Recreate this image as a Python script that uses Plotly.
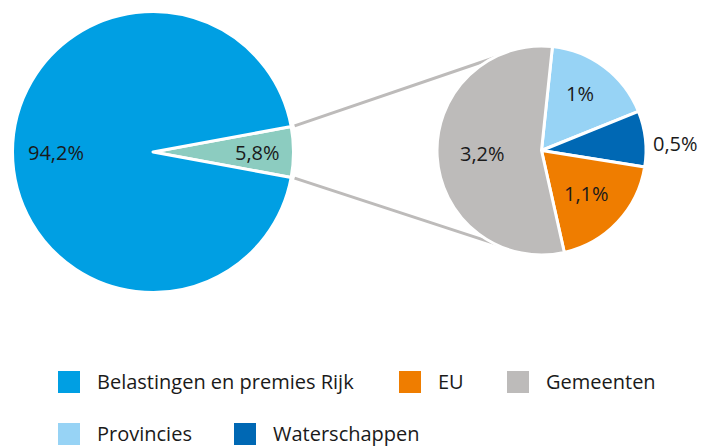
import math
import plotly.graph_objects as go

W, H = 702, 447

# Main split: state taxes vs. the remainder that is broken down on the right
main_labels = ["Belastingen en premies Rijk", "Overig"]
main_values = [94.2, 5.8]
main_colors = ["#009FE3", "#8CCCC0"]

# Breakdown of the remaining share
detail_labels = ["Provincies", "Waterschappen", "EU", "Gemeenten"]
detail_values = [1.0, 0.5, 1.1, 3.2]
detail_colors = ["#97D3F5", "#0068B4", "#EF7D00", "#BDBBBA"]

# Legend entries in display order
legend_labels = ["Belastingen en premies Rijk", "EU", "Gemeenten", "Provincies", "Waterschappen"]

FONT = "Open Sans"
TEXT_COLOR = "#1A1A1A"
BORDER = 3

# Pie geometry in pixels (centre, visible radius)
main_c, main_r = (153.0, 152.0), 139.0
det_c, det_r = (541.5, 150.5), 103.0


def px(x):
    return x / W


def py(y):
    return 1 - y / H


def domain(c, r):
    rr = r + BORDER / 2
    return dict(x=[px(c[0] - rr), px(c[0] + rr)], y=[py(c[1] + rr), py(c[1] - rr)])


def fmt(v):
    s = f"{v:.1f}".replace(".", ",")
    if s.endswith(",0"):
        s = s[:-2]
    return s + "%"


main_total = sum(main_values)
det_total = sum(detail_values)
# rotate so the small slice is centred on 3 o'clock
main_rot = 90 - main_values[1] / main_total * 360 / 2
main_order = [1, 0]
det_rot = 6

fig = go.Figure()
fig.add_trace(go.Pie(
    labels=[main_labels[i] for i in main_order],
    values=[main_values[i] for i in main_order],
    marker=dict(colors=[main_colors[i] for i in main_order], line=dict(color="white", width=BORDER)),
    sort=False, direction="clockwise", rotation=main_rot,
    textinfo="none", hoverinfo="label+value", showlegend=False,
    domain=domain(main_c, main_r),
))
fig.add_trace(go.Pie(
    labels=detail_labels, values=detail_values,
    marker=dict(colors=detail_colors, line=dict(color="white", width=BORDER)),
    sort=False, direction="clockwise", rotation=det_rot,
    textinfo="none", hoverinfo="label+value", showlegend=False,
    domain=domain(det_c, det_r),
))


def mid_angles(values, rot):
    tot = sum(values)
    out, a = [], rot
    for v in values:
        span = v / tot * 360
        out.append(a + span / 2)
        a += span
    return out


annotations = []


def add_label(c, r, angle, frac, text):
    a = math.radians(angle)
    x = c[0] + frac * r * math.sin(a)
    y = c[1] - frac * r * math.cos(a)
    annotations.append(dict(
        x=px(x), y=py(y), xref="paper", yref="paper", text=text, showarrow=False,
        xanchor="center", yanchor="middle",
        font=dict(family=FONT, size=20, color=TEXT_COLOR),
    ))


# labels on the main pie
m_mid = mid_angles([main_values[i] for i in main_order], main_rot)
main_fracs = {0: 0.70, 1: 0.75}
for k, i in enumerate(main_order):
    add_label(main_c, main_r, m_mid[k], main_fracs[i], fmt(main_values[i]))

# labels on the breakdown pie: (radius fraction, angle shift)
det_place = [(0.67, -3), (1.30, 3.5), (0.60, 0.5), (0.57, 0)]
d_mid = mid_angles(detail_values, det_rot)
for k, v in enumerate(detail_values):
    frac, shift = det_place[k]
    add_label(det_c, det_r, d_mid[k] + shift, frac, fmt(v))

# connector lines: from the small slice's outer corners, tangent to the breakdown pie
shapes = []
half = main_values[1] / main_total * 180
for sign in (-1, 1):
    th = math.radians(sign * half)
    sx = main_c[0] + (main_r + 5) * math.cos(th)
    sy = main_c[1] + (main_r + 5) * math.sin(th)
    dx, dy = det_c[0] - sx, det_c[1] - sy
    d = math.hypot(dx, dy)
    base = math.atan2(dy, dx)
    off = math.asin(det_r / d)
    ang = base + sign * off
    L = math.sqrt(d * d - det_r * det_r)
    ex, ey = sx + L * math.cos(ang), sy + L * math.sin(ang)
    shapes.append(dict(
        type="line", xref="paper", yref="paper", layer="below",
        x0=px(sx), y0=py(sy), x1=px(ex), y1=py(ey),
        line=dict(color="#BDBBBA", width=3),
    ))

# legend drawn as squares plus text
color_of = dict(zip(main_labels, main_colors))
color_of.update(dict(zip(detail_labels, detail_colors)))
legend_pos = [(58, 382), (399, 382), (507, 382), (58, 434), (234, 434)]
SQ = 22
for lab, (lx, ly) in zip(legend_labels, legend_pos):
    shapes.append(dict(
        type="rect", xref="paper", yref="paper",
        x0=px(lx), x1=px(lx + SQ), y0=py(ly + SQ / 2), y1=py(ly - SQ / 2),
        fillcolor=color_of[lab], line=dict(width=0),
    ))
    annotations.append(dict(
        x=px(lx + SQ + 15), y=py(ly - 1), xref="paper", yref="paper", text=lab,
        showarrow=False, xanchor="left", yanchor="middle",
        font=dict(family=FONT, size=20, color=TEXT_COLOR),
    ))

fig.update_layout(
    width=W, height=H,
    margin=dict(l=0, r=0, t=0, b=0),
    paper_bgcolor="white", plot_bgcolor="white",
    shapes=shapes, annotations=annotations,
    showlegend=False,
)

fig.write_html("out.html", config={"displayModeBar": False})
